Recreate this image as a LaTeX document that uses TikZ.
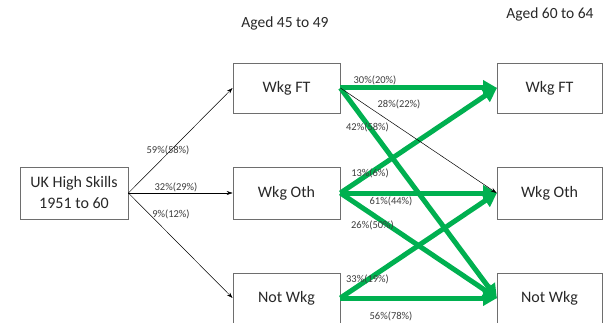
\documentclass[tikz,border=0pt]{standalone}
\usepackage{fontspec}
\setmainfont{Carlito}
\usetikzlibrary{arrows.meta}
\definecolor{flowgreen}{RGB}{0,176,80}
\definecolor{boxline}{RGB}{110,110,110}
\definecolor{txt}{RGB}{40,40,40}
\definecolor{lbl}{RGB}{60,60,60}
\tikzset{
  statebox/.style={draw=boxline, line width=0.8pt, fill=white, minimum width=107pt,
    minimum height=50pt, inner sep=0pt, font=\fontsize{16}{21}\selectfont, text=txt, align=center},
  thinflow/.style={draw=black, line width=0.5pt, -{Stealth[length=6pt,width=4pt]}},
  bigflow/.style={draw=flowgreen, line width=5pt, -{Triangle[length=14pt,width=15pt]}, shorten >=-0.5pt},
  pct/.style={font=\fontsize{10.5}{12}\selectfont, text=lbl, inner sep=0pt},
  head/.style={font=\fontsize{15.5}{18}\selectfont, text=txt, inner sep=0pt}
}
\begin{document}
\begin{tikzpicture}[x=1pt,y=-1pt]
\useasboundingbox (0,0) rectangle (607,323);
\clip (0,0) rectangle (607,323);

% column headings
\node[head] (h1) at (285,23) {Aged 45 to 49};
\node[head] (h2) at (550,14) {Aged 60 to 64};

% boxes
\node[statebox, minimum width=108pt, minimum height=52pt] (uk) at (74,193) {UK High Skills\\1951 to 60};
\node[statebox] (mft) at (286.5,88) {Wkg FT};
\node[statebox, minimum height=52pt] (moth) at (286.5,193) {Wkg Oth};
\node[statebox] (mnot) at (286.5,298) {Not Wkg};
\node[statebox, minimum width=105pt] (rft) at (549.5,88) {Wkg FT};
\node[statebox, minimum width=105pt, minimum height=52pt] (roth) at (549.5,193) {Wkg Oth};
\node[statebox, minimum width=105pt] (rnot) at (549.5,298) {Not Wkg};

% first transition
\draw[thinflow] (uk.east) -- (mft.west);
\draw[thinflow] (uk.east) -- (moth.west);
\draw[thinflow] (uk.east) -- (mnot.west);
\node[pct] (p1) at (168,150) {59\%(58\%)};
\node[pct] (p2) at (176,187) {32\%(29\%)};
\node[pct] (p3) at (171,214) {9\%(12\%)};

% second transition
\draw[bigflow] (mft.east) -- (rft.west);
\draw[bigflow] (mft.east) -- (rnot.west);
\draw[bigflow] (moth.east) -- (rft.west);
\draw[bigflow] (moth.east) -- (roth.west);
\draw[bigflow] (moth.east) -- (rnot.west);
\draw[bigflow] (mnot.east) -- (roth.west);
\draw[bigflow] (mnot.east) -- (rnot.west);
\draw[thinflow] (mft.east) -- (roth.west);

\node[pct] (q1) at (375,80) {30\%(20\%)};
\node[pct] (q2) at (399,104) {28\%(22\%)};
\node[pct] (q3) at (367.5,127) {42\%(58\%)};
\node[pct] (q4) at (370,173) {13\%(6\%)};
\node[pct] (q5) at (391,201) {61\%(44\%)};
\node[pct] (q6) at (372.5,225) {26\%(50\%)};
\node[pct] (q7) at (367.5,279) {33\%(19\%)};
\node[pct] (q8) at (391,316) {56\%(78\%)};
\end{tikzpicture}
\end{document}
